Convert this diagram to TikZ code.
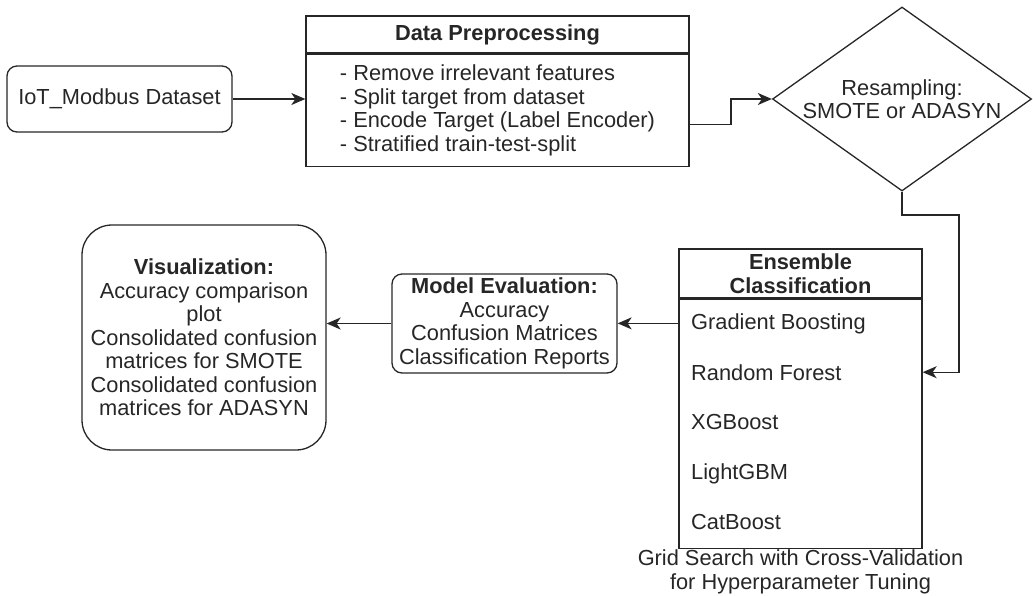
\documentclass[tikz,border=0pt]{standalone}
\usepackage{fontspec}
\setmainfont{Liberation Sans}
\usepackage{xcolor}
\usepackage{tikz}
\usetikzlibrary{arrows.meta,shapes.geometric}

\newcommand{\diagfont}{\fontsize{21.8}{23.5}\selectfont}

\begin{document}
\begin{tikzpicture}[x=1pt,y=-1pt,
every node/.style={text=black!85,font=\diagfont,inner sep=0pt},
blk/.style={draw=black!85,line width=1.3pt},
rbox/.style={blk,rounded corners=10pt},
title/.style={font=\diagfont\bfseries},
decision/.style={blk,diamond},
arr/.style={draw=black!85,line width=1.3pt,-{Stealth[length=14pt,width=12pt,inset=4pt]}}]
\useasboundingbox (0,0) rectangle (1033,595);

\node[rbox,minimum width=225pt,minimum height=66pt] (iot) at (119.5,99) {IoT\_Modbus Dataset};

\node[blk,title,minimum width=383pt,minimum height=37pt] (prephead) at (497.5,34.5) {Data Preprocessing};
\node[blk,minimum width=383pt,minimum height=112pt,anchor=north,align=left] (prep) at (prephead.south)
{- Remove irrelevant features\\- Split target from dataset\\- Encode Target (Label Encoder)\\- Stratified train-test-split};

\node[decision,minimum width=259pt,minimum height=184pt] (resample) at (902,99) {};
\node[align=center] (resampletext) at (resample) {Resampling:\\SMOTE or ADASYN};

\node[blk,title,minimum width=243pt,minimum height=49pt,align=center] (enshead) at (800.5,273.5) {Ensemble\\Classification};
\node[blk,minimum width=243pt,minimum height=249pt,anchor=north] (ens) at (enshead.south) {};
\node[anchor=base west] (gb) at (691,329) {Gradient Boosting};
\node[anchor=base west] (rf) at (691,380) {Random Forest};
\node[anchor=base west] (xgb) at (691,429) {XGBoost};
\node[anchor=base west] (lgbm) at (691,479) {LightGBM};
\node[anchor=base west] (cat) at (691,529) {CatBoost};
\node[anchor=north,align=center,yshift=-1pt] (gridcap) at (ens.south)
{Grid Search with Cross-Validation\\for Hyperparameter Tuning};

\node[rbox,minimum width=225pt,minimum height=99pt,align=center] (eval) at (504.5,323.5)
{\textbf{Model Evaluation:}\\Accuracy\\Confusion Matrices\\Classification Reports};

\node[rbox,rounded corners=30pt,minimum width=244pt,minimum height=225pt,align=center] (vis) at (204,337.5)
{\textbf{Visualization:}\\Accuracy comparison\\plot\\Consolidated confusion\\matrices for SMOTE\\Consolidated confusion\\matrices for ADASYN};

\coordinate (turn) at (959,215);
\draw[arr] (iot.east) -- (prep.west |- iot.east);
\draw[arr] ([yshift=-14pt]prep.east) -| ([xshift=-41pt]resample.west) -- (resample.west);
\draw[arr] (resample.south) |- (turn) |- (rf.west -| ens.east);
\draw[arr] (gb.west -| ens.west) -- (gb.west -| eval.east);
\draw[arr] (eval.west) -- (eval.west -| vis.east);
\end{tikzpicture}
\end{document}
